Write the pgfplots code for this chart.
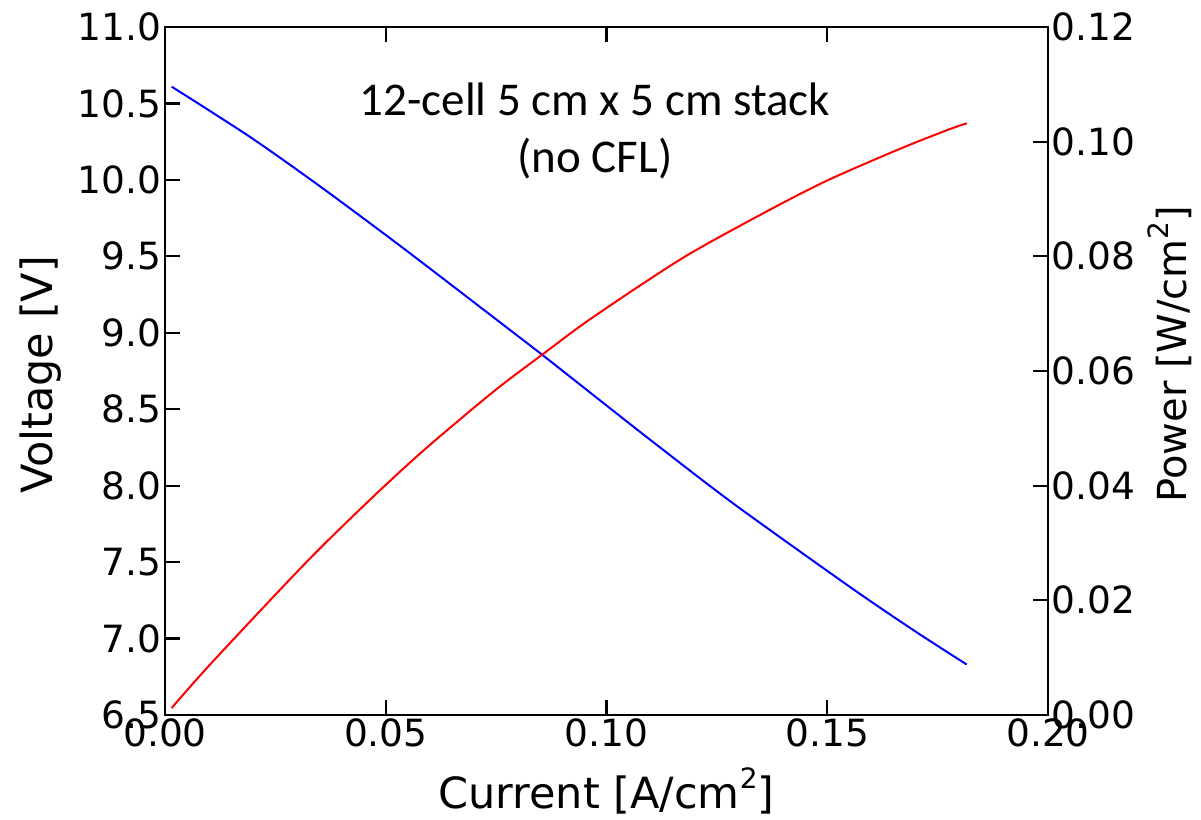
\documentclass[border=0pt]{standalone}
\usepackage{fontspec}
\setmainfont{DejaVu Sans}
\newfontfamily\carlito{Carlito}
\usepackage{pgfplots}
\pgfplotsset{compat=1.18}

% polarisation curve: stack voltage [V] vs current density [A/cm^2]
\pgfplotstableread{
I       V
0.0015  10.61
0.0193  10.28
0.0350  9.96
0.0532  9.57
0.0740  9.11
0.0857  8.85
0.0980  8.57
0.1099  8.30
0.1270  7.92
0.1438  7.57
0.1580  7.28
0.1703  7.04
0.1816  6.83
}\voltage

% power density [W/cm^2] vs current density [A/cm^2]
\pgfplotstableread{
I       P
0.0015  0.0012
0.0102  0.0088
0.0317  0.0264
0.0461  0.0373
0.0585  0.0461
0.0744  0.0564
0.0857  0.0630
0.0966  0.0692
0.1166  0.0794
0.1333  0.0866
0.1491  0.0929
0.1657  0.0985
0.1771  0.1020
0.1816  0.1032
}\power

\newcommand{\sq}{\raisebox{0.45em}{\fontsize{28}{30}\selectfont 2}}

\pgfplotsset{
  stackaxis/.style={
    scale only axis, width=883pt, height=688pt,
    xmin=0, xmax=0.2,
    scaled x ticks=false, scaled y ticks=false,
    tick align=inside,
    major tick length=15pt,
    every tick/.append style={black, line width=2.2pt},
    axis line style={line width=2.2pt},
    tick label style={font=\fontsize{37.5}{44}\selectfont,
      /pgf/number format/assume math mode=true},
  }
}

\begin{document}
\begin{tikzpicture}
\begin{axis}[stackaxis, name=ax,
    ymin=6.5, ymax=11,
    xtick={0,0.05,0.1,0.15,0.2},
    ytick={6.5,7,7.5,8,8.5,9,9.5,10,10.5,11},
    ytick pos=left,
    xticklabel style={/pgf/number format/.cd, fixed, fixed zerofill, precision=2},
    yticklabel style={/pgf/number format/.cd, fixed, fixed zerofill, precision=1},
  ]
  \addplot[blue, line width=2pt, smooth, no marks] table[x=I, y=V] {\voltage};
  \node[anchor=north, align=center, inner sep=0pt,
        font=\carlito\fontsize{47}{57}\selectfont]
    at (axis cs:0.0974,10.634) {12-cell 5 cm x 5 cm stack\\(no CFL)};
\end{axis}
\begin{axis}[stackaxis, name=ax2,
    hide x axis,
    axis y line*=right,
    ymin=0, ymax=0.12,
    ytick={0,0.02,0.04,0.06,0.08,0.10,0.12},
    yticklabel style={/pgf/number format/.cd, fixed, fixed zerofill, precision=2},
  ]
  \addplot[red, line width=2pt, smooth, no marks] table[x=I, y=P] {\power};
\end{axis}
\node[anchor=north, inner sep=0pt, font=\fontsize{43}{50}\selectfont]
  at ([yshift=-53pt]ax.south) {Current [A/cm\sq]};
\node[rotate=90, anchor=north, inner sep=0pt, font=\fontsize{43}{50}\selectfont]
  at ([xshift=-145pt,yshift=-4pt]ax.west) {Voltage [V]};
\node[rotate=90, anchor=north, inner sep=0pt, font=\fontsize{40}{48}\selectfont]
  at ([xshift=100pt,yshift=17pt]ax.east) {Power [W/cm\sq]};
\pgfresetboundingbox
\path[use as bounding box] ([xshift=-165pt,yshift=-105pt]ax.south west)
  rectangle ([xshift=153pt,yshift=27pt]ax.north east);
\end{tikzpicture}
\end{document}
